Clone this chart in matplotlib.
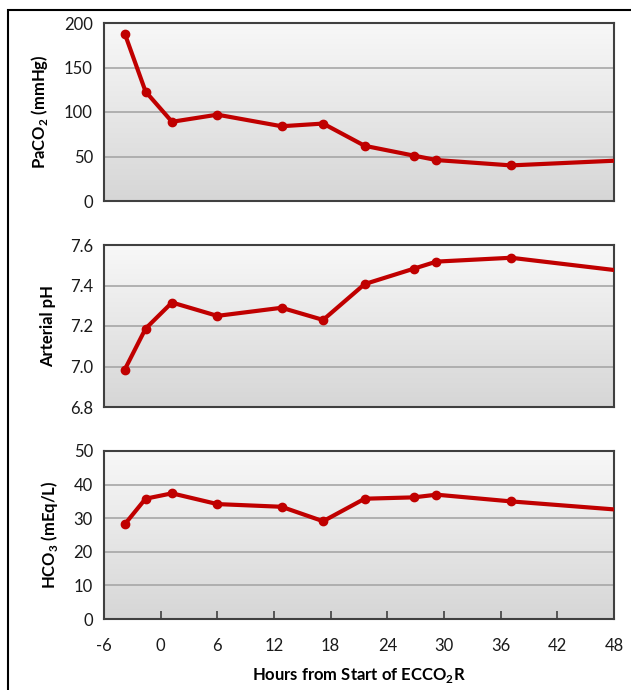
import matplotlib.pyplot as plt
import numpy as np

plt.rcParams['font.family'] = ['Lato', 'DejaVu Sans']
plt.rcParams['mathtext.fontset'] = 'custom'
plt.rcParams['mathtext.rm'] = 'Lato'
plt.rcParams['mathtext.bf'] = 'Lato:bold'

# hours from start of ECCO2R (last sample lies past the 48 h edge)
hours = [-3.8, -1.6, 1.2, 6.0, 12.8, 17.2, 21.6, 26.8, 29.2, 37.1, 60.0]
paco2 = [188, 123, 89, 97, 84, 87, 62, 51, 46, 40, 51]
ph = [6.985, 7.187, 7.316, 7.25, 7.29, 7.23, 7.407, 7.483, 7.518, 7.537, 7.41]
hco3 = [28.2, 35.8, 37.4, 34.2, 33.4, 29.1, 35.8, 36.2, 37.0, 35.0, 30.0]

xticks = [-6, 0, 6, 12, 18, 24, 30, 36, 42, 48]

W, H = 631, 690
fig = plt.figure(figsize=(W / 100, H / 100), dpi=100)

# outer frame (runs off the right and bottom edges like the screenshot)
fig.patches.append(plt.Rectangle((8 / W, -0.05), 1.0, 1 - 10 / H + 0.05,
                                 transform=fig.transFigure, fill=False,
                                 edgecolor='black', linewidth=1.5, clip_on=False))

panels = [
    (paco2, (0, 200), [0, 50, 100, 150, 200], ['0', '50', '100', '150', '200'],
     r'PaCO$_\mathbf{2}$ (mmHg)', 23, 201),
    (ph, (6.8, 7.6), [6.8, 7.0, 7.2, 7.4, 7.6], ['6.8', '7.0', '7.2', '7.4', '7.6'],
     'Arterial pH', 245, 407),
    (hco3, (0, 50), [0, 10, 20, 30, 40, 50], ['0', '10', '20', '30', '40', '50'],
     r'HCO$_\mathbf{3}$ (mEq/L)', 451, 619),
]

grad = np.linspace(0, 1, 256).reshape(-1, 1)
cmap = plt.matplotlib.colors.LinearSegmentedColormap.from_list('g', ['#f8f8f8', '#d6d6d6'])
left, right = 104 / W, 614 / W

for i, (vals, ylim, yt, ytl, lab, top, bot) in enumerate(panels):
    ax = fig.add_axes([left, 1 - bot / H, right - left, (bot - top) / H])
    ax.imshow(grad, cmap=cmap, aspect='auto',
              extent=[-6, 48, ylim[0], ylim[1]], origin='upper', zorder=0)
    for y in yt[1:-1]:
        ax.axhline(y, color='#a6a6a6', linewidth=1.2, zorder=1)
    ax.plot(hours, vals, color='#c00000', linewidth=3, marker='o',
            markersize=6, zorder=3)
    ax.set_xlim(-6, 48)
    ax.set_ylim(*ylim)
    ax.set_yticks(yt)
    ax.set_yticklabels(ytl, fontsize=12, color='#1a1a1a')
    ax.tick_params(axis='y', length=0, pad=8)
    ax.set_ylabel(lab, fontsize=12, fontweight='bold', labelpad=10)
    for s in ax.spines.values():
        s.set_color('#404040')
        s.set_linewidth(1.5)
    if i < 2:
        ax.set_xticks([])
    else:
        ax.set_xticks(xticks)
        ax.set_xticklabels([str(t) for t in xticks], fontsize=12, color='#1a1a1a')
        ax.tick_params(axis='x', direction='in', length=6, width=1.2,
                       color='#404040', pad=14)
        ax.set_xlabel(r'Hours from Start of ECCO$_\mathbf{2}$R', fontsize=12,
                      fontweight='bold', labelpad=8)

fig.align_ylabels(fig.axes)
fig.savefig('out.png', dpi=100)
